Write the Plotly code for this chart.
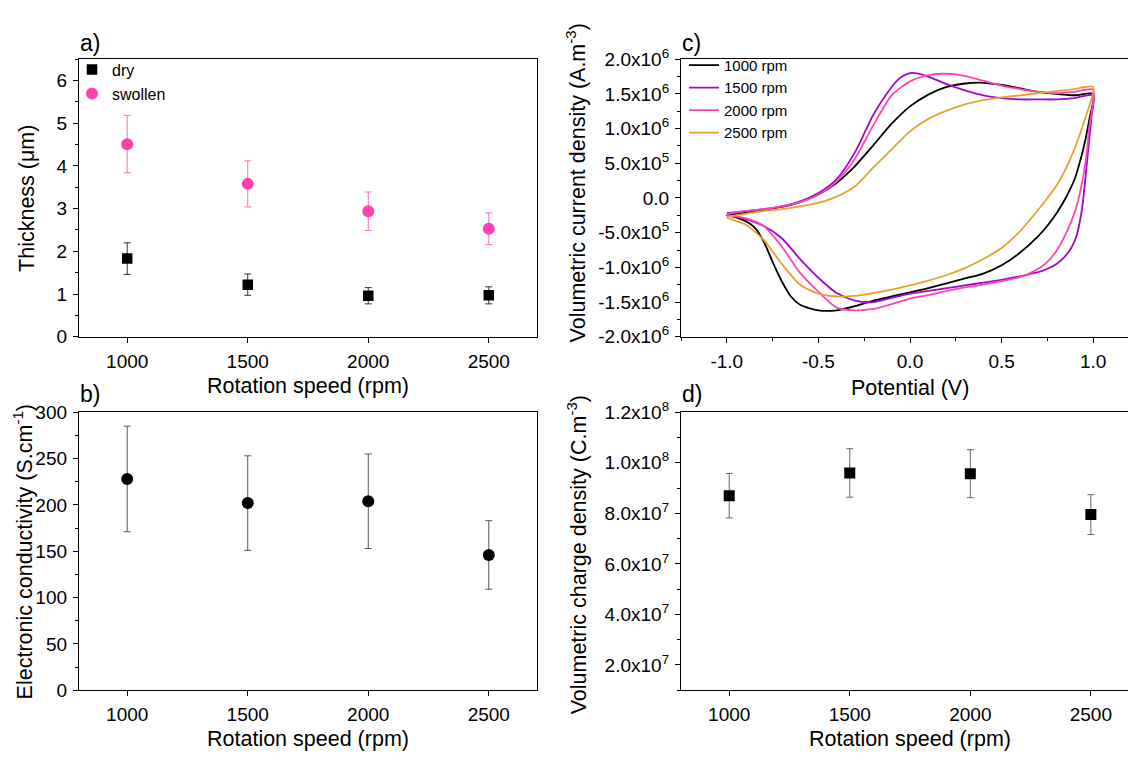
import numpy as np
import plotly.graph_objects as go

W, H = 1128, 760
FONT = "Liberation Sans, Arial, sans-serif"

# ---------------- data ----------------
speed = [1000, 1500, 2000, 2500]

thick_dry = [1.83, 1.22, 0.96, 0.97]
thick_dry_err = [0.37, 0.25, 0.19, 0.20]
thick_swollen = [4.51, 3.58, 2.94, 2.53]
thick_swollen_err = [0.67, 0.54, 0.45, 0.37]

conductivity = [228, 202, 204, 146]
conductivity_err = [57, 51, 51, 37]

charge_density = [8.70e7, 9.60e7, 9.57e7, 7.95e7]
charge_density_err = [0.88e7, 0.96e7, 0.95e7, 0.79e7]

# CV loops: potential (V) and volumetric current density (x1e6 A.m-3)
cv_labels = ["1000 rpm", "1500 rpm", "2000 rpm", "2500 rpm"]
cv_colors = ["#000000", "#9E0ACF", "#FF45B4", "#E8A22C"]

v_1000 = [-1.0, -0.9, -0.8, -0.7, -0.6, -0.5, -0.4, -0.3, -0.2, -0.1, 0.0, 0.1, 0.2, 0.3, 0.4, 0.5,
          0.6, 0.7, 0.8, 0.9, 1.0,
          0.98, 0.95, 0.92, 0.90, 0.85, 0.80, 0.75, 0.70, 0.60, 0.50, 0.40, 0.30, 0.20, 0.10, 0.0,
          -0.1, -0.2, -0.3, -0.4, -0.5, -0.6, -0.65, -0.7, -0.75, -0.8, -0.85, -0.9, -0.95, -1.0]
i_1000 = [-0.25, -0.21, -0.17, -0.13, -0.06, 0.05, 0.22, 0.46, 0.76, 1.07, 1.32, 1.49, 1.60, 1.65, 1.66, 1.63,
          1.58, 1.53, 1.50, 1.48, 1.50,
          1.15, 0.75, 0.45, 0.28, 0.00, -0.22, -0.40, -0.55, -0.79, -0.97, -1.09, -1.16, -1.23, -1.30, -1.36,
          -1.42, -1.48, -1.56, -1.62, -1.62, -1.54, -1.42, -1.20, -0.92, -0.62, -0.42, -0.33, -0.28, -0.25]

v_1500 = [-1.0, -0.9, -0.8, -0.7, -0.6, -0.5, -0.4, -0.3, -0.2, -0.1, -0.05, 0.0, 0.05, 0.1, 0.2, 0.3,
          0.4, 0.5, 0.6, 0.7, 0.8, 0.9, 1.0,
          0.99, 0.975, 0.96, 0.945, 0.93, 0.91, 0.88, 0.84, 0.80, 0.75, 0.70, 0.65, 0.6, 0.5, 0.4, 0.3, 0.2,
          0.1, 0.0, -0.1, -0.2, -0.3, -0.4, -0.5, -0.6, -0.7, -0.8, -0.9, -1.0]
i_1500 = [-0.22, -0.19, -0.16, -0.12, -0.05, 0.07, 0.27, 0.66, 1.20, 1.60, 1.74, 1.80, 1.79, 1.75, 1.64, 1.55,
          1.48, 1.44, 1.42, 1.42, 1.42, 1.44, 1.48,
          1.15, 0.75, 0.35, -0.03, -0.30, -0.54, -0.72, -0.86, -0.95, -1.02, -1.07, -1.10, -1.13, -1.18, -1.22, -1.26, -1.30,
          -1.34, -1.38, -1.44, -1.50, -1.48, -1.37, -1.15, -0.88, -0.58, -0.40, -0.30, -0.24]

v_2000 = [-1.0, -0.9, -0.8, -0.7, -0.6, -0.5, -0.4, -0.3, -0.2, -0.1, 0.0, 0.1, 0.2, 0.3, 0.4, 0.5,
          0.6, 0.7, 0.8, 0.9, 1.0,
          0.98, 0.96, 0.93, 0.90, 0.85, 0.80, 0.75, 0.70, 0.65, 0.6, 0.5, 0.4, 0.3, 0.2, 0.1, 0.0,
          -0.1, -0.2, -0.3, -0.4, -0.5, -0.6, -0.7, -0.8, -0.9, -1.0]
i_2000 = [-0.23, -0.19, -0.16, -0.12, -0.06, 0.05, 0.24, 0.57, 1.05, 1.48, 1.68, 1.77, 1.79, 1.76, 1.69, 1.62,
          1.57, 1.53, 1.51, 1.53, 1.56,
          1.05, 0.55, 0.10, -0.20, -0.52, -0.76, -0.92, -1.02, -1.09, -1.14, -1.20, -1.25, -1.29, -1.34, -1.40, -1.45,
          -1.53, -1.60, -1.62, -1.58, -1.35, -1.08, -0.70, -0.40, -0.29, -0.25]

v_2500 = [-1.0, -0.9, -0.8, -0.7, -0.6, -0.5, -0.4, -0.3, -0.2, -0.1, 0.0, 0.1, 0.2, 0.3, 0.4, 0.5,
          0.6, 0.7, 0.8, 0.9, 1.0,
          0.95, 0.90, 0.85, 0.80, 0.75, 0.70, 0.6, 0.5, 0.4, 0.3, 0.2, 0.1, 0.0,
          -0.1, -0.2, -0.3, -0.4, -0.5, -0.6, -0.7, -0.8, -0.9, -1.0]
i_2500 = [-0.28, -0.23, -0.19, -0.16, -0.12, -0.07, 0.02, 0.17, 0.44, 0.70, 0.96, 1.14, 1.26, 1.35, 1.41, 1.45,
          1.48, 1.51, 1.54, 1.57, 1.60,
          1.10, 0.72, 0.42, 0.18, 0.00, -0.17, -0.48, -0.72, -0.88, -1.01, -1.11, -1.19, -1.26,
          -1.32, -1.37, -1.41, -1.42, -1.38, -1.25, -0.95, -0.60, -0.38, -0.28]

cv_v = [v_1000, v_1500, v_2000, v_2500]
cv_i = [i_1000, i_1500, i_2000, i_2500]

# tick labels
cv_x_tickvals = [-1.0, -0.5, 0.0, 0.5, 1.0]
cv_x_ticktext = ["-1.0", "-0.5", "0.0", "0.5", "1.0"]
cv_y_tickvals = [-2.0e6, -1.5e6, -1.0e6, -5.0e5, 0.0, 5.0e5, 1.0e6, 1.5e6, 2.0e6]
cv_y_ticktext = ["-2.0x10<sup>6</sup>", "-1.5x10<sup>6</sup>", "-1.0x10<sup>6</sup>", "-5.0x10<sup>5</sup>",
                 "0.0", "5.0x10<sup>5</sup>", "1.0x10<sup>6</sup>", "1.5x10<sup>6</sup>", "2.0x10<sup>6</sup>"]
q_y_tickvals = [2.0e7, 4.0e7, 6.0e7, 8.0e7, 1.0e8, 1.2e8]
q_y_ticktext = ["2.0x10<sup>7</sup>", "4.0x10<sup>7</sup>", "6.0x10<sup>7</sup>", "8.0x10<sup>7</sup>",
                "1.0x10<sup>8</sup>", "1.2x10<sup>8</sup>"]

# ---------------- figure ----------------
fig = go.Figure()

# panel a
fig.add_trace(go.Scatter(
    x=speed, y=thick_dry, mode="markers", name="dry", legend="legend",
    marker=dict(symbol="square", size=10.5, color="black"),
    error_y=dict(type="data", array=thick_dry_err, color="#333333", thickness=1, width=3.5),
    xaxis="x", yaxis="y"))
fig.add_trace(go.Scatter(
    x=speed, y=thick_swollen, mode="markers", name="swollen", legend="legend",
    marker=dict(symbol="circle", size=12, color="#FF40B0"),
    error_y=dict(type="data", array=thick_swollen_err, color="#FF6EC4", thickness=1, width=3.5),
    xaxis="x", yaxis="y"))

# panel b
fig.add_trace(go.Scatter(
    x=speed, y=conductivity, mode="markers", showlegend=False,
    marker=dict(symbol="circle", size=12, color="black"),
    error_y=dict(type="data", array=conductivity_err, color="#555555", thickness=1, width=3.5),
    xaxis="x2", yaxis="y2"))

# panel c
for lab, col, vv, ii in zip(cv_labels, cv_colors, cv_v, cv_i):
    fig.add_trace(go.Scatter(
        x=vv, y=np.array(ii) * 1e6, mode="lines", name=lab, legend="legend2",
        line=dict(color=col, width=1.8, shape="spline", smoothing=0.7),
        xaxis="x3", yaxis="y3"))

# panel d
fig.add_trace(go.Scatter(
    x=speed, y=charge_density, mode="markers", showlegend=False,
    marker=dict(symbol="square", size=11, color="black"),
    error_y=dict(type="data", array=charge_density_err, color="#666666", thickness=1, width=3.5),
    xaxis="x4", yaxis="y4"))


def axis(**kw):
    d = dict(showline=True, linecolor="black", linewidth=1.3, mirror=True,
             ticks="outside", ticklen=5, tickwidth=1.3, tickcolor="black",
             showgrid=False, zeroline=False, ticklabelstandoff=2,
             tickfont=dict(family=FONT, size=19, color="black"))
    d.update(kw)
    return d


minor_style = dict(ticks="outside", ticklen=3, tickwidth=1.2, tickcolor="black", showgrid=False)

xl = [79 / W, 537 / W]
xr = [681 / W, 1.0]
yt = [1 - 334.3 / H, 1 - 47.7 / H]
yb = [1 - 699.3 / H, 1 - 412.3 / H]

fig.update_layout(
    width=W, height=H, autosize=False,
    margin=dict(l=0, r=0, t=0, b=0),
    paper_bgcolor="white", plot_bgcolor="white",
    font=dict(family=FONT, color="black"),
    xaxis=axis(domain=xl, anchor="y", range=[800, 2700], tickmode="linear", tick0=1000, dtick=500),
    yaxis=axis(domain=yt, anchor="x", range=[0, 6.5], tickmode="linear", tick0=0, dtick=1,
               minor=dict(dtick=0.5, tick0=0, **minor_style)),
    xaxis2=axis(domain=xl, anchor="y2", range=[800, 2700], tickmode="linear", tick0=1000, dtick=500),
    yaxis2=axis(domain=yb, anchor="x2", range=[0, 300], tickmode="linear", tick0=0, dtick=50,
                minor=dict(dtick=25, tick0=0, **minor_style)),
    xaxis3=axis(domain=xr, anchor="y3", range=[-1.25, 1.19], tickmode="array",
                tickvals=cv_x_tickvals, ticktext=cv_x_ticktext,
                minor=dict(dtick=0.25, tick0=-1.0, **minor_style)),
    yaxis3=axis(domain=yt, anchor="x3", range=[-2.0e6, 2.0e6], mirror=False, tickmode="array",
                tickvals=cv_y_tickvals, ticktext=cv_y_ticktext,
                minor=dict(dtick=2.5e5, tick0=0, **minor_style)),
    xaxis4=axis(domain=xr, anchor="y4", range=[800, 2654], tickmode="linear", tick0=1000, dtick=500),
    yaxis4=axis(domain=yb, anchor="x4", range=[1.0e7, 1.2e8], mirror=False, tickmode="array",
                tickvals=q_y_tickvals, ticktext=q_y_ticktext,
                minor=dict(dtick=1.0e7, tick0=0, **minor_style)),
    legend=dict(x=72 / W, y=1 - 41 / H, xanchor="left", yanchor="top",
                bgcolor="rgba(0,0,0,0)", borderwidth=0, tracegroupgap=0,
                font=dict(family=FONT, size=16, color="black")),
    legend2=dict(x=684 / W, y=1 - 37 / H, xanchor="left", yanchor="top",
                 bgcolor="rgba(0,0,0,0)", borderwidth=0, tracegroupgap=0,
                 font=dict(family=FONT, size=15, color="black")),
    showlegend=True,
)

TITLE = 21.5


def ann(text, x, y, size=TITLE, angle=0, xanchor="center"):
    fig.add_annotation(text=text, x=x / W, y=1 - y / H, xref="paper", yref="paper",
                       showarrow=False, textangle=angle, xanchor=xanchor, yanchor="middle",
                       font=dict(family=FONT, size=size, color="black"))


# panel labels
ann("a)", 78, 31, size=23, xanchor="left")
ann("b)", 78, 393, size=23, xanchor="left")
ann("c)", 680, 31, size=23, xanchor="left")
ann("d)", 680, 393, size=23, xanchor="left")

# axis titles
ann("Rotation speed (rpm)", 308, 385)
ann("Rotation speed (rpm)", 308, 750)
ann("Potential (V)", 910, 387)
ann("Rotation speed (rpm)", 910, 750)
ann("Thickness (\u03bcm)", 27, 192, angle=-90)
ann("Electronic conductivity (S.cm<sup>-1</sup>)", 23, 557, angle=-90)
ann("Volumetric current density (A.m<sup>-3</sup>)", 576, 176, angle=-90)
ann("Volumetric charge density (C.m<sup>-3</sup>)", 577, 559, angle=-90)

fig.write_html("out.html", config={"displayModeBar": False},
               post_script="document.body.style.margin='0';document.body.style.overflow='hidden';")
